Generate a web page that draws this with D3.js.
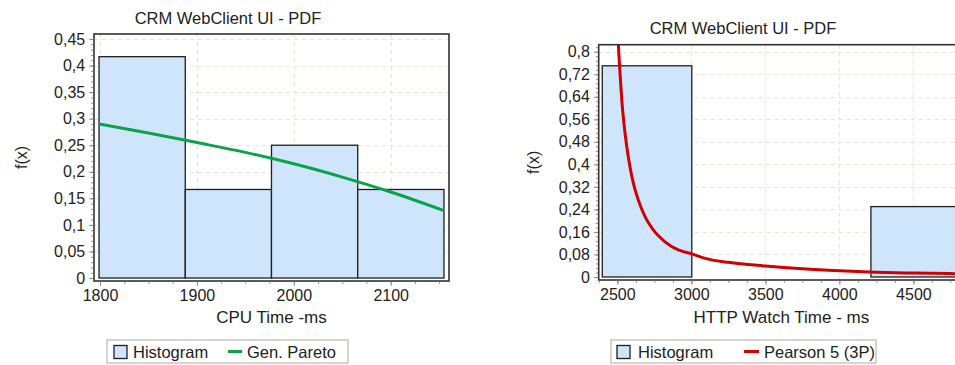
<!DOCTYPE html>
<html>
<head>
<meta charset="utf-8">
<script src="https://cdn.jsdelivr.net/npm/d3@7"></script>
<style>
  html, body { margin: 0; padding: 0; background: #ffffff; }
  svg { display: block; }
  text { font-family: "Liberation Sans", Arial, sans-serif; fill: #222; }
</style>
</head>
<body>
<svg id="chart" width="955" height="365"></svg>
<script>
// ---- CPU time panel ----
const cpuBinEdges = [1799, 1888, 1977, 2066, 2155];
const cpuFreq = [0.4167, 0.1667, 0.25, 0.1667];
const cpuFitX = [1799, 1850, 1900, 1950, 2000, 2050, 2100, 2155];
const cpuFitY = [0.290, 0.273, 0.255, 0.2365, 0.215, 0.190, 0.162, 0.127];
const cpuXTicks = [1800, 1900, 2000, 2100];
const cpuYTicks = [0, 0.05, 0.1, 0.15, 0.2, 0.25, 0.3, 0.35, 0.4, 0.45];

// ---- HTTP watch time panel ----
const httpBinEdges = [2398, 3003, 3608, 4213, 4818];
const httpFreq = [0.75, 0, 0, 0.25];
const httpFitX = [2500, 2507, 2518, 2530, 2547, 2563, 2581, 2608, 2642, 2687, 2743, 2822, 2912, 3003, 3093, 3250, 3500, 3750, 4000, 4250, 4500, 4750, 4950];
const httpFitY = [0.90, 0.824, 0.723, 0.629, 0.534, 0.465, 0.404, 0.333, 0.273, 0.214, 0.167, 0.125, 0.096, 0.082, 0.066, 0.052, 0.039, 0.029, 0.022, 0.017, 0.014, 0.012, 0.010];
const httpXTicks = [2500, 3000, 3500, 4000, 4500];
const httpYTicks = [0, 0.08, 0.16, 0.24, 0.32, 0.4, 0.48, 0.56, 0.64, 0.72, 0.8];

const svg = d3.select("#chart");
const locale = d3.formatLocale({decimal: ",", thousands: ".", grouping: [3], currency: ["", ""]});
const fmtY = locale.format(".2~f");
const fmtX = d3.format("d");

const panels = [
  {
    id: "cpu",
    title: "CRM WebClient UI - PDF", titleX: 228, titleY: 24,
    xLabel: "CPU Time -ms", yLabelX: 22,
    frame: {x0: 94, x1: 449, y0: 34, y1: 281},
    xDomain: [1793.8, 2160.2], yDomain: [-0.0056, 0.4594],
    edges: cpuBinEdges, freq: cpuFreq, fitX: cpuFitX, fitY: cpuFitY,
    xTicks: cpuXTicks, yTicks: cpuYTicks, xMinor: 25, yMinor: 0.01,
    fitColor: "#0ca24a", fitName: "Gen. Pareto",
    legend: {x0: 107, x1: 348, y0: 340, y1: 363, swatchX: 114, textX: 133, lineX0: 228, lineX1: 242, fitTextX: 247}
  },
  {
    id: "http",
    title: "CRM WebClient UI - PDF", titleX: 743, titleY: 34,
    xLabel: "HTTP Watch Time - ms", yLabelX: 534,
    frame: {x0: 598.7, x1: 964, y0: 44.7, y1: 280},
    xDomain: [2374, 4842], yDomain: [-0.0107, 0.8249],
    edges: httpBinEdges, freq: httpFreq, fitX: httpFitX, fitY: httpFitY,
    xTicks: httpXTicks, yTicks: httpYTicks, xMinor: 125, yMinor: 0.016,
    fitColor: "#d00000", fitName: "Pearson 5 (3P)",
    legend: {x0: 611, x1: 876, y0: 340, y1: 363, swatchX: 617, textX: 638, lineX0: 744, lineX1: 759, fitTextX: 764}
  }
];

panels.forEach(p => {
  const f = p.frame;
  const x = d3.scaleLinear().domain(p.xDomain).range([f.x0, f.x1]);
  const y = d3.scaleLinear().domain(p.yDomain).range([f.y1, f.y0]);
  const g = svg.append("g").attr("class", "panel-" + p.id);

  g.append("clipPath").attr("id", "clip-" + p.id)
    .append("rect").attr("x", f.x0).attr("y", f.y0)
    .attr("width", f.x1 - f.x0).attr("height", f.y1 - f.y0);

  // plot background
  g.append("rect").attr("x", f.x0).attr("y", f.y0)
    .attr("width", f.x1 - f.x0).attr("height", f.y1 - f.y0)
    .attr("fill", "#ffffff");

  // dashed grid
  const grid = g.append("g").attr("stroke", "#e9e3cf").attr("stroke-width", 1)
    .attr("stroke-dasharray", "4,4");
  grid.selectAll("line.gx").data(p.xTicks).join("line").attr("class", "gx")
    .attr("x1", d => Math.round(x(d)) + 0.5).attr("x2", d => Math.round(x(d)) + 0.5)
    .attr("y1", f.y0).attr("y2", f.y1);
  grid.selectAll("line.gy").data(p.yTicks.filter(v => v > 0)).join("line").attr("class", "gy")
    .attr("y1", d => Math.round(y(d)) + 0.5).attr("y2", d => Math.round(y(d)) + 0.5)
    .attr("x1", f.x0).attr("x2", f.x1);

  // histogram bars
  const bins = p.freq.map((v, i) => ({x0: p.edges[i], x1: p.edges[i + 1], v}));
  g.append("g").attr("clip-path", "url(#clip-" + p.id + ")")
    .selectAll("rect").data(bins).join("rect")
    .attr("x", d => x(d.x0)).attr("width", d => x(d.x1) - x(d.x0))
    .attr("y", d => y(d.v)).attr("height", d => Math.max(0, y(0) - y(d.v)))
    .attr("fill", "#cfe5fb").attr("stroke", "#1e1e1e").attr("stroke-width", 1.3);

  // fitted density
  const pts = p.fitX.map((v, i) => [v, p.fitY[i]]);
  g.append("path").datum(pts)
    .attr("clip-path", "url(#clip-" + p.id + ")")
    .attr("fill", "none").attr("stroke", p.fitColor).attr("stroke-width", 3)
    .attr("stroke-linejoin", "round")
    .attr("d", d3.line().x(d => x(d[0])).y(d => y(d[1])).curve(d3.curveMonotoneX));

  // frame
  g.append("rect").attr("x", f.x0).attr("y", f.y0)
    .attr("width", f.x1 - f.x0).attr("height", f.y1 - f.y0)
    .attr("fill", "none").attr("stroke", "#333").attr("stroke-width", 1.6);

  // axes: major and minor ticks
  const xMinorTicks = d3.range(Math.ceil(p.xDomain[0] / p.xMinor) * p.xMinor, p.xDomain[1], p.xMinor);
  const yMinorTicks = d3.range(0, p.yDomain[1], p.yMinor);

  const xAxis = d3.axisBottom(x).tickValues(p.xTicks).tickFormat(fmtX).tickSize(4).tickPadding(4);
  const xAxisMinor = d3.axisBottom(x).tickValues(xMinorTicks).tickFormat("").tickSize(2);
  const yAxis = d3.axisLeft(y).tickValues(p.yTicks).tickFormat(fmtY).tickSize(4).tickPadding(4);
  const yAxisMinor = d3.axisLeft(y).tickValues(yMinorTicks).tickFormat("").tickSize(2);

  [[xAxisMinor, "x"], [xAxis, "x"], [yAxisMinor, "y"], [yAxis, "y"]].forEach(([ax, dir]) => {
    const a = g.append("g")
      .attr("transform", dir === "x" ? `translate(0,${f.y1 + 0.8})` : `translate(${f.x0 - 0.8},0)`)
      .call(ax);
    a.select(".domain").remove();
    a.selectAll("line").attr("stroke", "#8a8a8a");
    a.selectAll("text").attr("font-size", 16).attr("fill", "#222")
      .attr("font-family", "'Liberation Sans', Arial, sans-serif");
  });

  // titles
  g.append("text").attr("x", p.titleX).attr("y", p.titleY)
    .attr("text-anchor", "middle").attr("font-size", 16.5).text(p.title);
  g.append("text").attr("x", (f.x0 + f.x1) / 2).attr("y", 323)
    .attr("text-anchor", "middle").attr("font-size", 17).text(p.xLabel);
  g.append("text")
    .attr("transform", `translate(${p.yLabelX + 5},${(f.y0 + f.y1) / 2}) rotate(-90)`)
    .attr("text-anchor", "middle").attr("font-size", 16).text("f(x)");

  // legend
  const L = p.legend;
  const lg = g.append("g");
  lg.append("rect").attr("x", L.x0).attr("y", L.y0)
    .attr("width", L.x1 - L.x0).attr("height", L.y1 - L.y0)
    .attr("fill", "#ffffff").attr("stroke", "#c8c8c0").attr("stroke-width", 1.5);
  lg.append("rect").attr("x", L.swatchX).attr("y", 345.5).attr("width", 13).attr("height", 13)
    .attr("fill", "#cfe5fb").attr("stroke", "#1e1e1e").attr("stroke-width", 1.3);
  lg.append("text").attr("x", L.textX).attr("y", 357.5).attr("font-size", 16.5).text("Histogram");
  lg.append("line").attr("x1", L.lineX0).attr("x2", L.lineX1).attr("y1", 351.5).attr("y2", 351.5)
    .attr("stroke", p.fitColor).attr("stroke-width", 3);
  lg.append("text").attr("x", L.fitTextX).attr("y", 357.5).attr("font-size", 16.5).text(p.fitName);
});
</script>
</body>
</html>
